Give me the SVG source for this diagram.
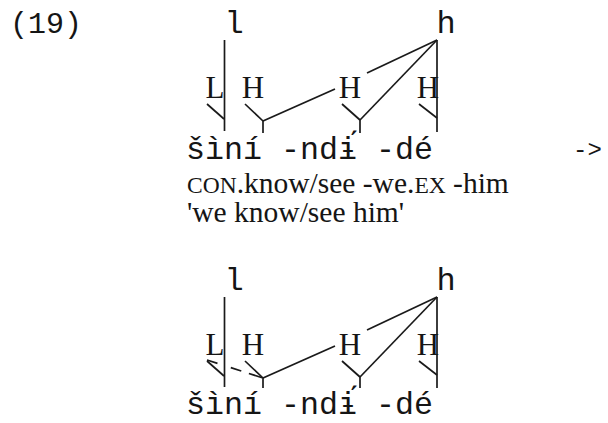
<svg xmlns="http://www.w3.org/2000/svg" width="608" height="423" viewBox="0 0 608 423">
<style>
  .mono { font-family: "Liberation Mono", "DejaVu Sans Mono", monospace; fill: #151515; }
  .tone { font-family: "Liberation Serif", "DejaVu Serif", serif; font-size: 31px; fill: #151515; text-anchor: middle; }
  .reg { font-family: "Liberation Mono", "DejaVu Sans Mono", monospace; font-size: 32px; fill: #151515; text-anchor: middle; }
  .word { font-size: 31.67px; }
  .gl { font-family: "Liberation Serif", "Times New Roman", serif; font-size: 29.5px; fill: #151515; }
  .sc { font-size: 23.5px; }
  .ln { stroke: #1a1a1a; stroke-width: 1.7; fill: none; stroke-linecap: butt; }
  .dash { stroke-dasharray: 11 14 11 8 14; }
</style>

<g id="example-number"><text class="mono" x="10" y="33" font-size="30">(19)</text></g>

<g id="diagram-1">
  <g id="d1-reg-l"><text class="reg" x="234" y="33">l</text></g>
  <g id="d1-reg-h"><text class="reg" x="446" y="33">h</text></g>
  <g id="d1-tone-L"><text class="tone" x="215" y="98">L</text></g>
  <g id="d1-tone-H1"><text class="tone" x="253" y="98">H</text></g>
  <g id="d1-tone-H2"><text class="tone" x="350" y="98">H</text></g>
  <g id="d1-tone-H3"><text class="tone" x="428" y="98">H</text></g>
  <g id="d1-word"><text class="mono word" x="186" y="159">šìní -ndɨ&#x301; -dé</text></g>
  <g id="d1-connectors">
    <line class="ln" x1="224.5" y1="40" x2="224.5" y2="131"/>
    <line class="ln" x1="207" y1="104" x2="224" y2="119"/>
    <line class="ln" x1="245" y1="104" x2="263" y2="121"/>
    <line class="ln" x1="263" y1="121" x2="263" y2="133"/>
    <line class="ln" x1="263" y1="121" x2="335" y2="89"/>
    <line class="ln" x1="342" y1="104" x2="360" y2="120"/>
    <line class="ln" x1="360" y1="120" x2="360" y2="133"/>
    <line class="ln" x1="360" y1="120" x2="437" y2="40"/>
    <line class="ln" x1="437" y1="40" x2="367" y2="73"/>
    <line class="ln" x1="437" y1="40" x2="437" y2="132"/>
    <line class="ln" x1="419" y1="104" x2="437" y2="118"/>
  </g>
</g>

<g id="gloss">
  <text class="gl" x="187" y="193"><tspan class="sc">CON</tspan>.know/see -we.<tspan class="sc">EX</tspan> -him</text>
  <text class="gl" x="187" y="222">'we know/see him'</text>
</g>

<g id="arrow"><text class="mono" x="573" y="157" font-size="24">-&gt;</text></g>

<g id="diagram-2">
  <g id="d2-reg-l"><text class="reg" x="234" y="290">l</text></g>
  <g id="d2-reg-h"><text class="reg" x="446" y="290">h</text></g>
  <g id="d2-tone-L"><text class="tone" x="215" y="355">L</text></g>
  <g id="d2-tone-H1"><text class="tone" x="253" y="355">H</text></g>
  <g id="d2-tone-H2"><text class="tone" x="350" y="355">H</text></g>
  <g id="d2-tone-H3"><text class="tone" x="428" y="355">H</text></g>
  <g id="d2-word"><text class="mono word" x="186" y="414">šìní -ndɨ&#x301; -dé</text></g>
  <g id="d2-connectors">
    <line class="ln" x1="224.5" y1="297" x2="224.5" y2="387"/>
    <line class="ln" x1="207" y1="361" x2="224" y2="376"/>
    <line class="ln dash" x1="207" y1="360" x2="263" y2="378"/>
    <line class="ln" x1="245" y1="361" x2="263" y2="378"/>
    <line class="ln" x1="263" y1="378" x2="263" y2="388"/>
    <line class="ln" x1="263" y1="378" x2="335" y2="346"/>
    <line class="ln" x1="342" y1="361" x2="360" y2="377"/>
    <line class="ln" x1="360" y1="377" x2="360" y2="388"/>
    <line class="ln" x1="360" y1="377" x2="437" y2="297"/>
    <line class="ln" x1="437" y1="297" x2="367" y2="330"/>
    <line class="ln" x1="437" y1="297" x2="437" y2="388"/>
    <line class="ln" x1="419" y1="361" x2="437" y2="375"/>
  </g>
</g>
</svg>
